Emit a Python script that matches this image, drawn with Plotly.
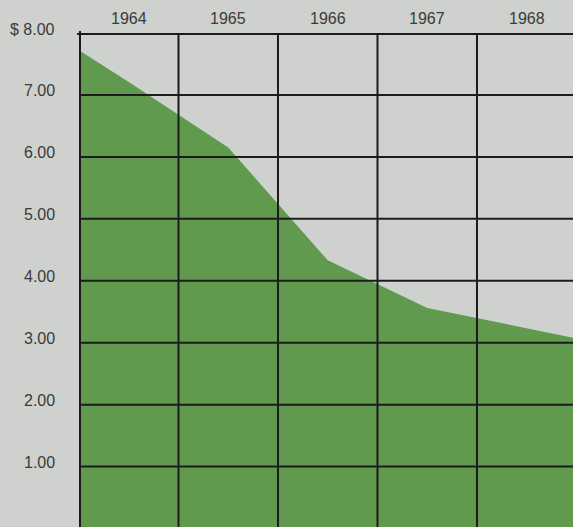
import plotly.graph_objects as go

# Price per unit, read at the year boundaries / mid-years
price_x = [1963.5, 1964, 1965, 1966, 1967, 1968, 1968.5]
price_y = [7.72, 7.21, 6.15, 4.33, 3.56, 3.23, 3.07]

years = [1964, 1965, 1966, 1967, 1968]
dollar_vals = [8, 7, 6, 5, 4, 3, 2, 1]
dollar_text = ["$ 8.00", "7.00", "6.00", "5.00", "4.00", "3.00", "2.00", "1.00"]

BG = "#ced1cd"
GREEN = "#5f9a4f"
INK = "#1c1c1c"
TEXT = "#3a3b3a"
FONT = "Liberation Sans, Arial, sans-serif"

x_range = [1963.5, 1968.465]
y_range = [0.025, 8]

fig = go.Figure()
fig.add_trace(go.Scatter(
    x=price_x, y=price_y, mode="lines", fill="tozeroy",
    fillcolor=GREEN, line=dict(color=GREEN, width=0),
    hoverinfo="skip", showlegend=False,
))

# grid drawn over the filled area
for yr in years[:-1]:
    fig.add_shape(type="line", xref="x", yref="paper", x0=yr + 0.5, x1=yr + 0.5,
                  y0=0, y1=1, line=dict(color=INK, width=2), layer="above")
for v in dollar_vals[1:]:
    fig.add_shape(type="line", xref="paper", yref="y", x0=0, x1=1, y0=v, y1=v,
                  line=dict(color=INK, width=2), layer="above")
# heavy frame on top and left
fig.add_shape(type="line", xref="paper", yref="y", x0=-0.004, x1=1, y0=dollar_vals[0], y1=dollar_vals[0],
              line=dict(color=INK, width=4), layer="above")
fig.add_shape(type="line", xref="x", yref="paper", x0=price_x[0], x1=price_x[0], y0=0, y1=1.004,
              line=dict(color=INK, width=4), layer="above")

# dollar labels
for v, t in zip(dollar_vals, dollar_text):
    fig.add_annotation(x=0, xref="paper", y=v, yref="y", text=t, showarrow=False,
                       xanchor="right", yanchor="middle", xshift=-22, yshift=4,
                       font=dict(family=FONT, size=16, color=TEXT))
# year labels
for yr in years:
    fig.add_annotation(x=yr, xref="x", y=1, yref="paper", text=str(yr), showarrow=False,
                       xanchor="center", yanchor="bottom", yshift=4,
                       font=dict(family=FONT, size=16, color=TEXT))

fig.update_xaxes(range=x_range, showgrid=False, zeroline=False, showticklabels=False,
                 ticks="", showline=False)
fig.update_yaxes(range=y_range, showgrid=False, zeroline=False, showticklabels=False,
                 ticks="", showline=False)
fig.update_layout(
    width=573, height=527,
    margin=dict(l=79, r=0, t=33, b=0),
    paper_bgcolor=BG, plot_bgcolor=BG,
    showlegend=False,
)

fig.write_html("out.html")
